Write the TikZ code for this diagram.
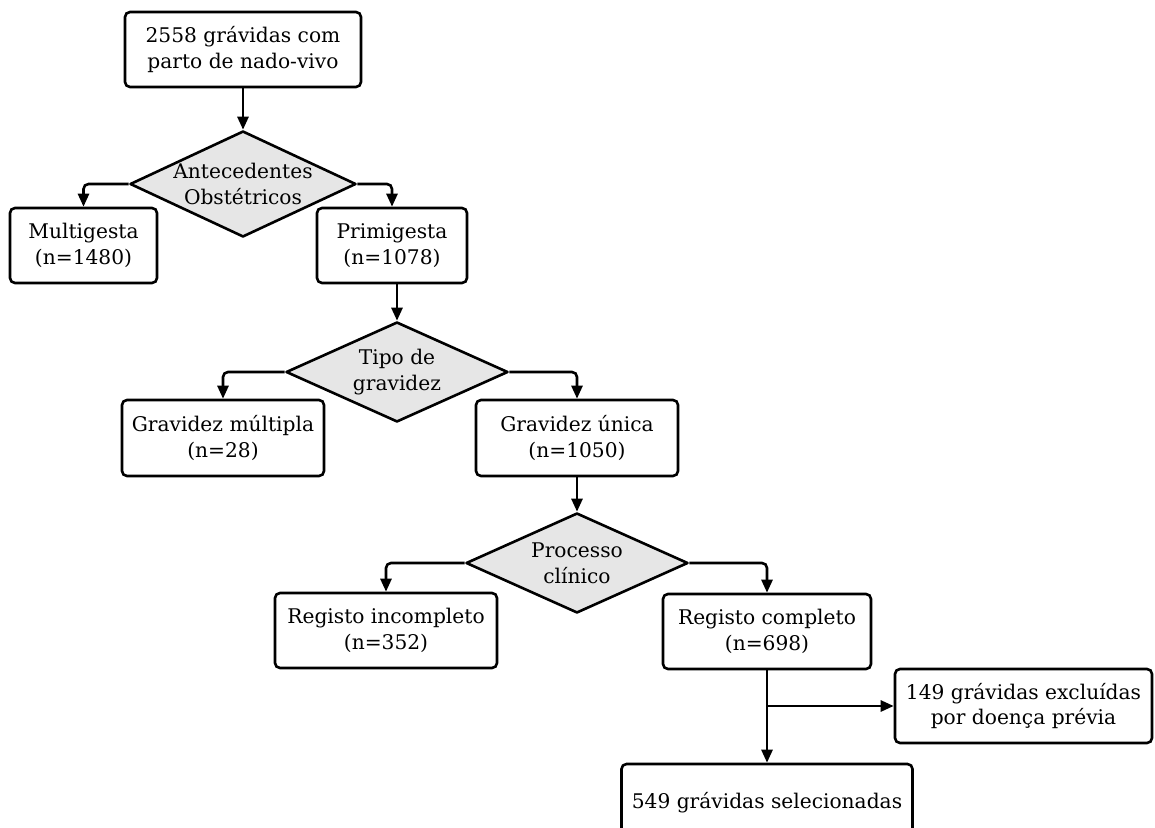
\documentclass[tikz,border=0pt]{standalone}
\usepackage{fontspec}
\setmainfont{DejaVu Serif}
\usetikzlibrary{arrows.meta,shapes.geometric}
\definecolor{diagray}{RGB}{230,230,230}
\tikzset{
  boxnode/.style={draw=black, line width=1.3pt, rounded corners=2.5pt, fill=white,
    align=center, inner sep=0pt, font=\fontsize{10.1}{12.8}\selectfont},
  decnode/.style={draw=black, line width=1.3pt, shape=diamond, fill=diagray,
    inner sep=0pt, line join=round},
  dectext/.style={align=center, inner sep=0pt, font=\fontsize{10.1}{12.8}\selectfont},
  arr/.style={draw=black, line width=1.3pt, -{Triangle[length=6.5pt,width=5.5pt]}},
  elbow/.style={arr, rounded corners=2.5pt}
}
\begin{document}
\begin{tikzpicture}[x=0.5pt,y=-0.5pt]
\useasboundingbox (0,0) rectangle (1155,828);
% boxes
\node[boxnode, minimum width=118pt, minimum height=37.5pt] (top) at (243,49.5) {2558 grávidas com\\parto de nado-vivo};
\node[decnode, minimum width=113pt, minimum height=53pt] (d1) at (243,184) {};
\node[dectext] (d1t) at (d1) {Antecedentes\\Obstétricos};
\node[boxnode, minimum width=73.5pt, minimum height=37.5pt] (multi) at (83.5,245.5) {Multigesta\\(n=1480)};
\node[boxnode, minimum width=75pt, minimum height=37.5pt] (prim) at (392,245.5) {Primigesta\\(n=1078)};
\node[decnode, minimum width=111pt, minimum height=50pt] (d2) at (397,372) {};
\node[dectext] (d2t) at (d2) {Tipo de\\gravidez};
\node[boxnode, minimum width=101pt, minimum height=38pt] (mult) at (223,438) {Gravidez múltipla\\(n=28)};
\node[boxnode, minimum width=101pt, minimum height=38pt] (unica) at (577,438) {Gravidez única\\(n=1050)};
\node[decnode, minimum width=111pt, minimum height=50pt] (d3) at (577,563) {};
\node[dectext] (d3t) at (d3) {Processo\\clínico};
\node[boxnode, minimum width=111pt, minimum height=37.5pt] (inc) at (386,630.5) {Registo incompleto\\(n=352)};
\node[boxnode, minimum width=104pt, minimum height=37.5pt] (comp) at (767,631.5) {Registo completo\\(n=698)};
\node[boxnode, minimum width=128.5pt, minimum height=37pt] (exc) at (1023.5,706) {149 grávidas excluídas\\por doença prévia};
\node[boxnode, minimum width=145.5pt, minimum height=39pt] (sel) at (767,803) {549 grávidas selecionadas};
% connectors
\draw[arr] (top.south) -- (d1.north);
\draw[elbow] (d1.west) -| (multi.north);
\draw[elbow] (d1.east) -| (prim.north);
\draw[arr] (d2.north |- prim.south) -- (d2.north);
\draw[elbow] (d2.west) -| (mult.north);
\draw[elbow] (d2.east) -| (unica.north);
\draw[arr] (unica.south) -- (d3.north);
\draw[elbow] (d3.west) -| (inc.north);
\draw[elbow] (d3.east) -| (comp.north);
\draw[arr] (comp.south) -- (sel.north);
\coordinate (split) at (comp.south |- exc.west);
\draw[arr] (split) -- (exc.west);
\end{tikzpicture}
\end{document}
